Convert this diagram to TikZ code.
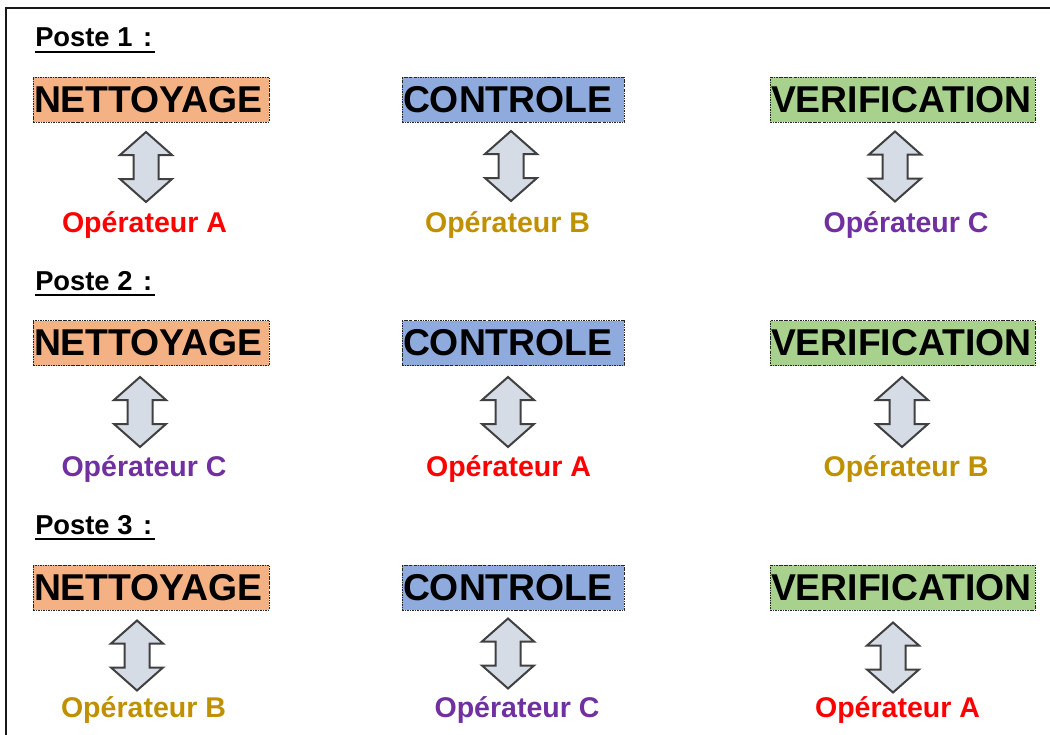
\documentclass[tikz,border=0pt]{standalone}
\usepackage{fontspec}
\setmainfont{Liberation Sans}
\definecolor{cleanfill}{HTML}{F4B183}
\definecolor{ctrlfill}{HTML}{8FAADC}
\definecolor{verifill}{HTML}{A9D18E}
\definecolor{opA}{HTML}{FF0000}
\definecolor{opB}{HTML}{BF9000}
\definecolor{opC}{HTML}{7030A0}
\definecolor{arrowfill}{HTML}{D6DCE5}
\definecolor{arrowedge}{HTML}{404040}
\begin{document}
\begin{tikzpicture}[x=0.75pt,y=-0.75pt,
  station/.style={draw=black!85, line width=0.7pt,
    dash pattern=on 1.6pt off 0.8pt on 0.5pt off 0.8pt,
    minimum height=33.75pt, inner xsep=0.75pt, inner ysep=0pt, align=left,
    font=\fontsize{28}{30}\selectfont\bfseries, text=black},
  clean/.style={station, fill=cleanfill, text width=175.5pt},
  ctrl/.style={station, fill=ctrlfill, text width=165pt},
  verif/.style={station, fill=verifill, text width=197.25pt},
  poste/.style={anchor=base west, inner sep=0pt,
    font=\fontsize{20.5}{22}\selectfont\bfseries},
  uline/.style={line width=2pt, black},
  oper/.style={anchor=base, inner sep=0pt,
    font=\fontsize{21.4}{24}\selectfont\bfseries},
  arrowline/.style={draw=arrowedge, fill=arrowfill, line width=1.5pt, line join=miter},
  vdbl/.pic={\path[arrowline] (0,-35) -- (26,-12) -- (12.5,-12) -- (12.5,12)
      -- (26,12) -- (0,35) -- (-26,12) -- (-12.5,12) -- (-12.5,-12)
      -- (-26,-12) -- cycle;}
]
\useasboundingbox (0,0) rectangle (1050,735);

% outer frame (top and left edges)
\draw[line width=1.9pt, black!90] (6,735) -- (6,8) -- (1050,8);

% ---------- Poste 1 ----------
\node[poste] (p1) at (35,47) {Poste 1\hspace{8pt}:};
\draw[uline] ([yshift=-3.75pt]p1.base west) -- ([xshift=1.5pt,yshift=-3.75pt]p1.base east);
\node[clean] (n1) at (151,99.5) {NETTOYAGE};
\node[ctrl]  (c1) at (513,99.5) {CONTROLE};
\node[verif] (v1) at (902.5,99.5) {VERIFICATION};
\pic (an1) at (146,167) {vdbl};
\pic (ac1) at (511,166) {vdbl};
\pic (av1) at (895,166.5) {vdbl};
\node[oper, text=opA] (on1) at (144.5,232) {Opérateur A};
\node[oper, text=opB] (oc1) at (507.5,232) {Opérateur B};
\node[oper, text=opC] (ov1) at (906,232) {Opérateur C};

% ---------- Poste 2 ----------
\node[poste] (p2) at (35,290) {Poste 2\hspace{8pt}:};
\draw[uline] ([yshift=-3.75pt]p2.base west) -- ([xshift=1.5pt,yshift=-3.75pt]p2.base east);
\node[clean] (n2) at (151,343) {NETTOYAGE};
\node[ctrl]  (c2) at (513,343) {CONTROLE};
\node[verif] (v2) at (902.5,343) {VERIFICATION};
\pic (an2) at (140,412) {vdbl};
\pic (ac2) at (508,412) {vdbl};
\pic (av2) at (902,412) {vdbl};
\node[oper, text=opC] (on2) at (144,476) {Opérateur C};
\node[oper, text=opA] (oc2) at (508.5,476) {Opérateur A};
\node[oper, text=opB] (ov2) at (906,476) {Opérateur B};

% ---------- Poste 3 ----------
\node[poste] (p3) at (35,534) {Poste 3\hspace{8pt}:};
\draw[uline] ([yshift=-3.75pt]p3.base west) -- ([xshift=1.5pt,yshift=-3.75pt]p3.base east);
\node[clean] (n3) at (151,587.5) {NETTOYAGE};
\node[ctrl]  (c3) at (513,587.5) {CONTROLE};
\node[verif] (v3) at (902.5,587.5) {VERIFICATION};
\pic (an3) at (137,655.5) {vdbl};
\pic (ac3) at (508,653.5) {vdbl};
\pic (av3) at (893,657.5) {vdbl};
\node[oper, text=opB] (on3) at (143.5,717) {Opérateur B};
\node[oper, text=opC] (oc3) at (517,717) {Opérateur C};
\node[oper, text=opA] (ov3) at (897.5,717) {Opérateur A};
\end{tikzpicture}
\end{document}
